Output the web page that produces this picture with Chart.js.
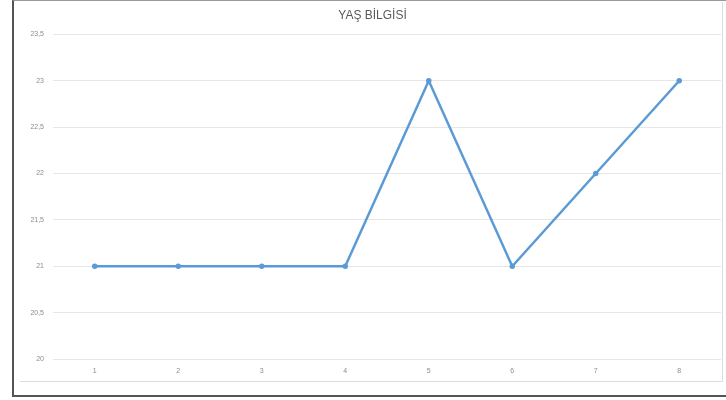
<!DOCTYPE html>
<html>
<head>
<meta charset="utf-8">
<script src="https://cdn.jsdelivr.net/npm/chart.js@4"></script>
<style>
  html, body { margin: 0; padding: 0; background: #fff; width: 726px; height: 400px; overflow: hidden; }
  #outer { position: absolute; left: 12px; top: 0; width: 712px; height: 394px;
           border-left: 2px solid #555; border-bottom: 2px solid #555; border-top: 1px solid #999; box-sizing: content-box; }
  #wrap { position: absolute; left: 20px; top: 2px; width: 702px; height: 379px; overflow: hidden;
          border-right: 1px solid #dcdcdc; border-bottom: 1px solid #dcdcdc; }
  canvas { display: block; }
</style>
</head>
<body>
<div id="outer"></div>
<div id="wrap"><canvas id="c" width="705" height="379"></canvas></div>
<script>
const categories = ["1", "2", "3", "4", "5", "6", "7", "8"];
const ageValues = [21, 21, 21, 21, 23, 21, 22, 23];
const yTickLabels = ["20", "20,5", "21", "21,5", "22", "22,5", "23", "23,5"];
const chartTitle = "YAŞ BİLGİSİ";

new Chart(document.getElementById('c'), {
  type: 'line',
  data: {
    labels: categories,
    datasets: [{
      data: ageValues,
      borderColor: '#5B9BD5',
      backgroundColor: '#5B9BD5',
      borderWidth: 2.5,
      pointRadius: 1.5,
      pointHoverRadius: 1.5,
      tension: 0,
      fill: false
    }]
  },
  options: {
    responsive: false,
    animation: false,
    devicePixelRatio: 1,
    layout: { padding: { top: 0, right: 0, bottom: 0, left: 0 } },
    plugins: {
      legend: { display: false },
      tooltip: { enabled: false },
      title: {
        display: true,
        text: chartTitle,
        color: '#595959',
        font: { family: 'Liberation Sans, Arial, sans-serif', size: 12, weight: 'normal' },
        padding: { top: 6, bottom: 12 }
      }
    },
    scales: {
      x: {
        offset: true,
        grid: { display: false, drawTicks: false },
        border: { display: false },
        ticks: { color: '#8c8c8c', font: { size: 7, family: 'Liberation Sans, Arial, sans-serif' }, padding: 8, maxRotation: 0 },
        afterFit: (s) => { s.height = 22; }
      },
      y: {
        min: 20,
        max: 23.5,
        grid: { color: '#e6e6e6', lineWidth: 1, drawTicks: false },
        border: { display: false },
        ticks: {
          stepSize: 0.5,
          color: '#8c8c8c',
          font: { size: 7, family: 'Liberation Sans, Arial, sans-serif' },
          padding: 9,
          callback: (v, i) => yTickLabels[i]
        },
        afterFit: (s) => { s.width = 33; }
      }
    }
  }
});
</script>
</body>
</html>
